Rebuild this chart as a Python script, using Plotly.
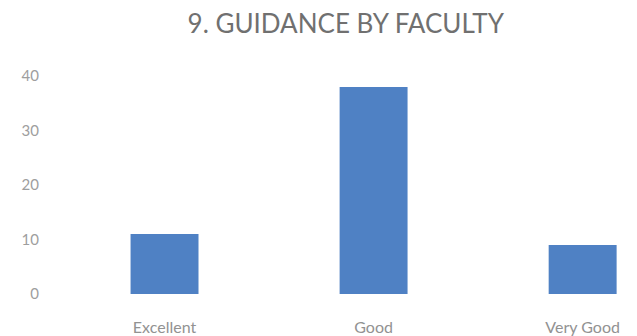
import plotly.graph_objects as go

categories = ["Excellent", "Good", "Very Good"]
values = [11, 38, 9]
y_ticks = [0, 10, 20, 30, 40]

fig = go.Figure(go.Bar(
    x=categories, y=values,
    marker=dict(color="#4F81C4", line=dict(width=0)),
    width=0.325,
))

# page body adds an 8px margin, so the figure is sized to fit the window
fig.update_layout(
    width=629, height=328,
    paper_bgcolor="white", plot_bgcolor="white",
    margin=dict(l=52, r=0, t=68, b=42, autoexpand=False),
    title=dict(text="9. GUIDANCE BY FACULTY", x=0.537, xanchor="center",
               y=0.952, yanchor="middle",
               font=dict(family="Lato", size=26, color="#707070")),
    font=dict(family="Lato", size=15, color="#8a8a8a"),
    showlegend=False,
)
fig.update_xaxes(
    type="category", range=[-0.5, 2.26], automargin=False,
    showline=False, showgrid=False, zeroline=False,
    ticks="", ticklabelstandoff=22,
    tickfont=dict(size=16, color="#929292"),
)
fig.update_yaxes(
    range=[0, 40], tickvals=y_ticks, automargin=False,
    showline=False, showgrid=False, zeroline=False,
    ticks="", ticklabelstandoff=20,
    tickfont=dict(size=15, color="#9e9e9e"),
)

fig.write_html("out.html")
